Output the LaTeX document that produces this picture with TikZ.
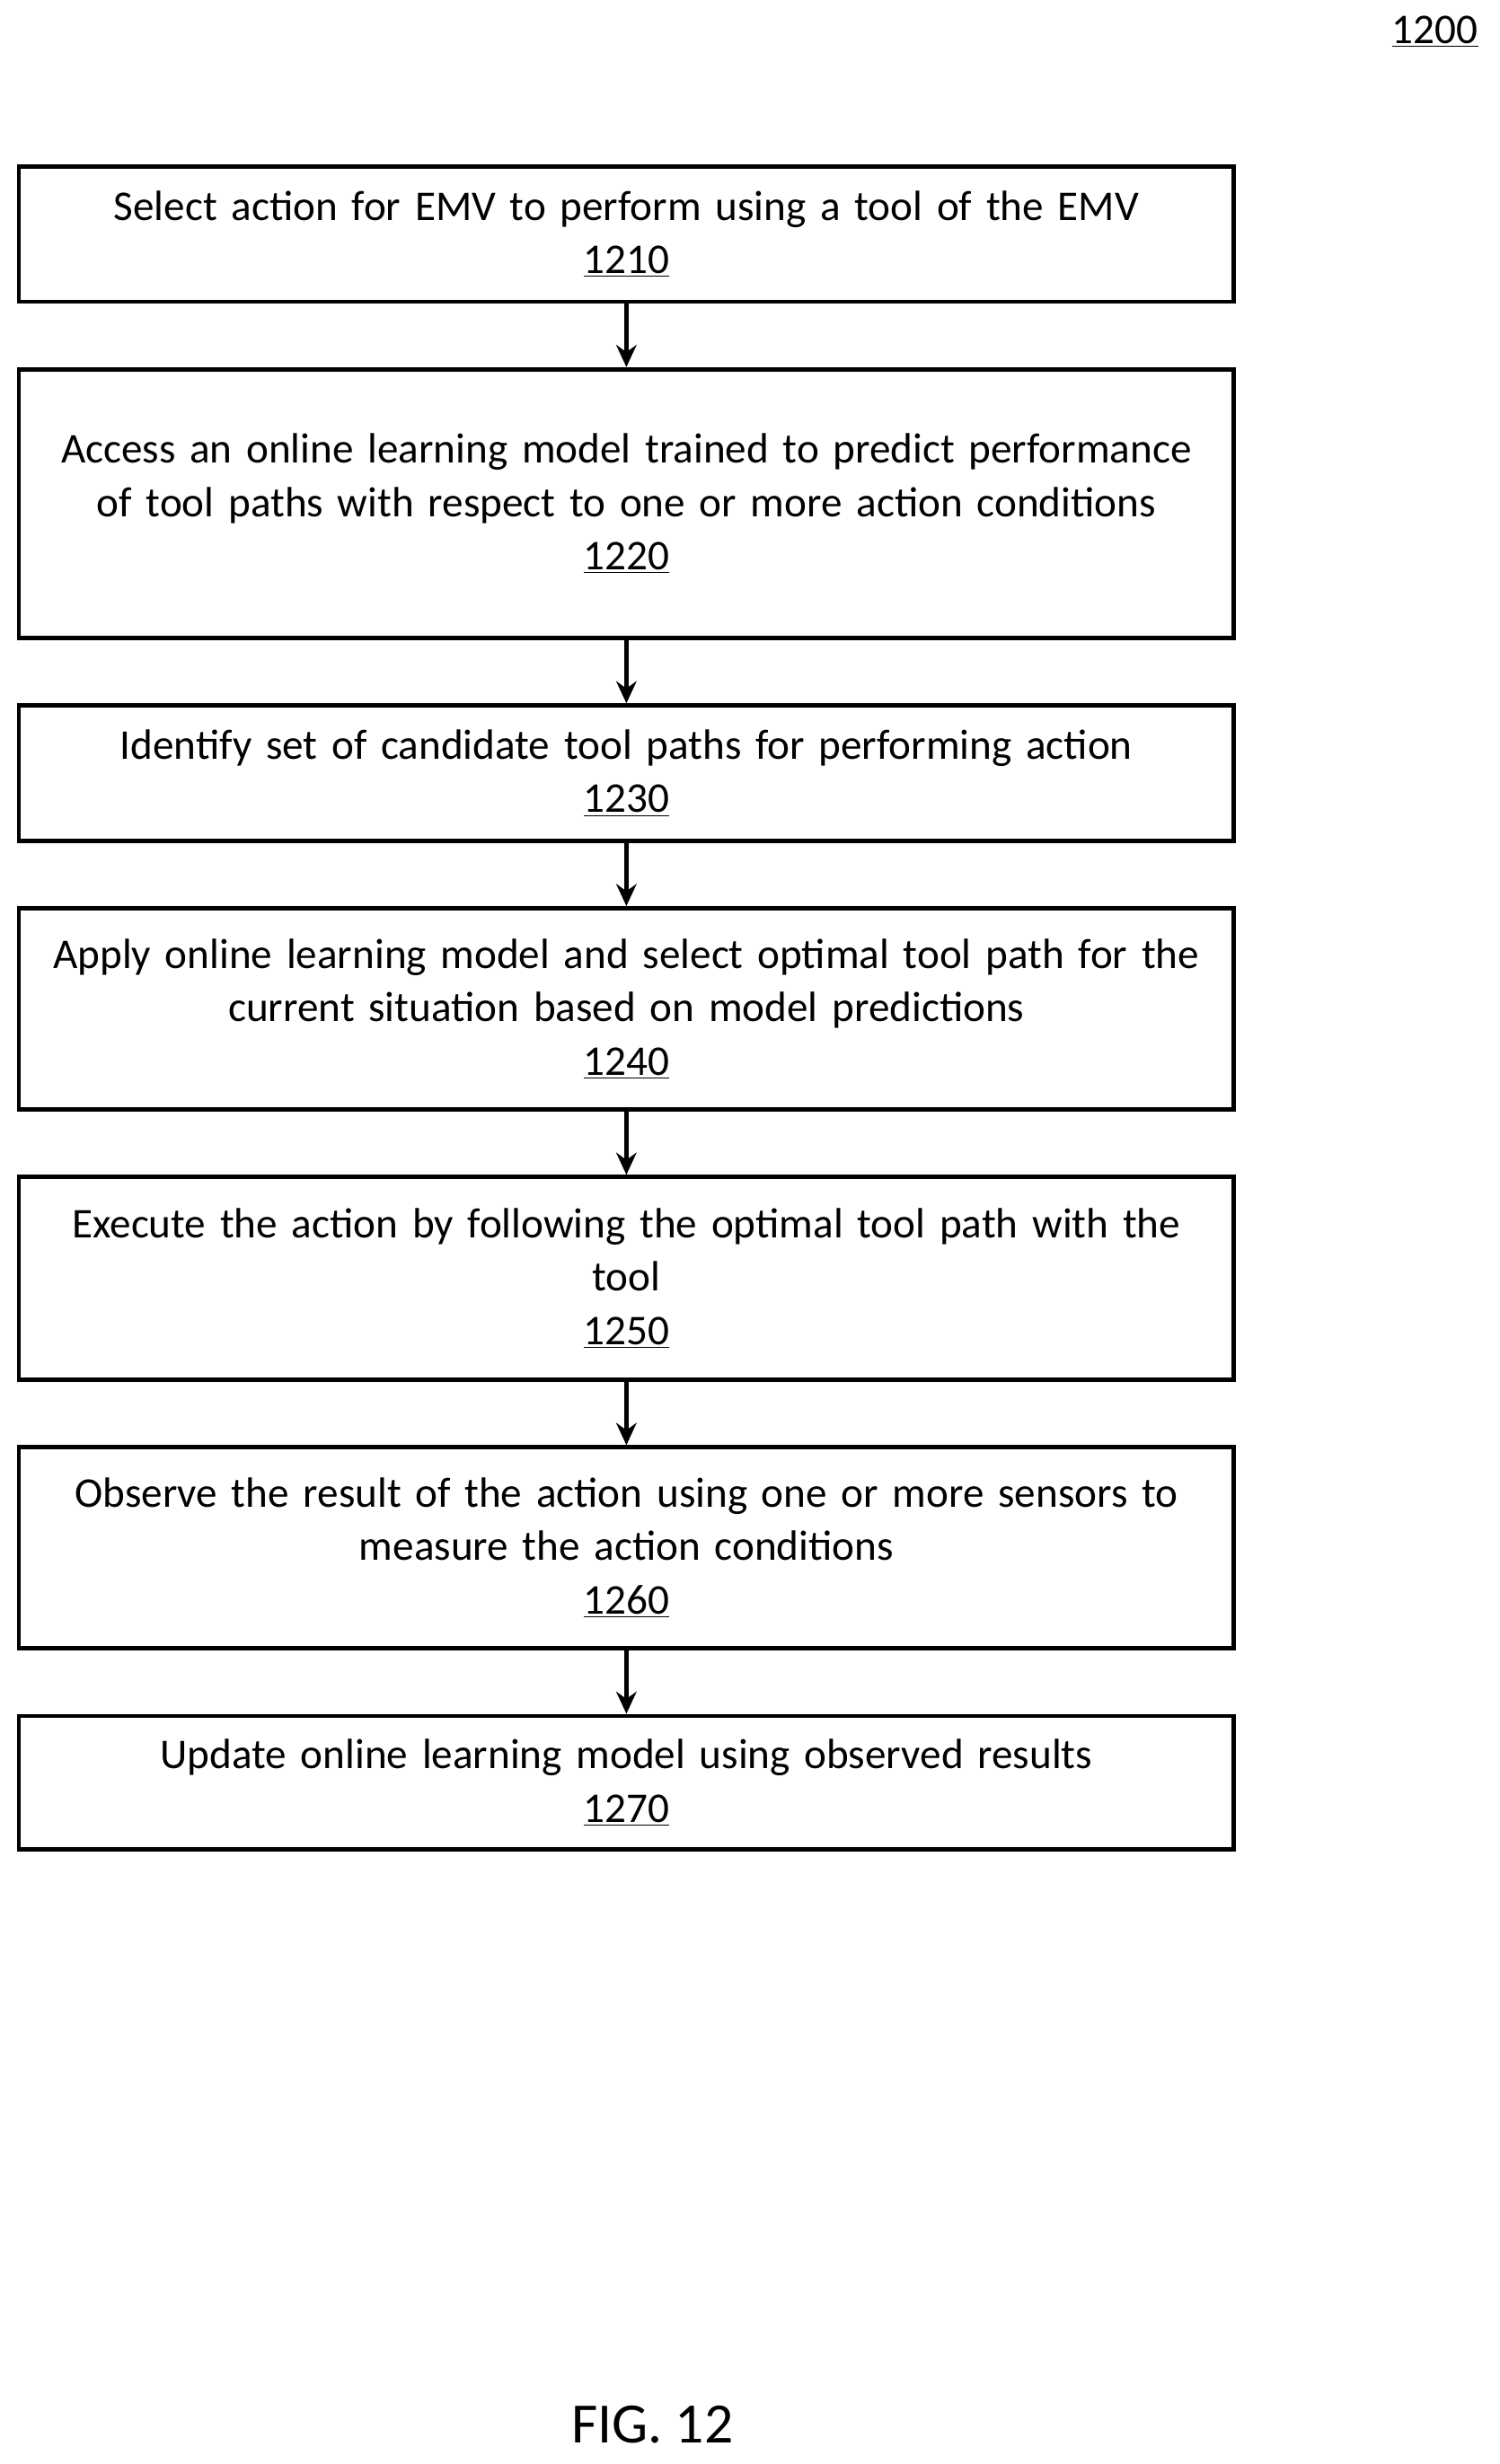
\documentclass[tikz,border=0pt]{standalone}
\usepackage{fontspec}
\setmainfont{Carlito}
\usetikzlibrary{positioning}
\usetikzlibrary{arrows.meta}

\tikzset{
    stepbox/.style={draw=black, line width=2.4pt, text width=23.19cm, align=center,
        font=\fontsize{23}{29}\selectfont, inner sep=0pt},
    flow/.style={line width=2.4pt, -{Stealth[length=12pt,width=11pt]}}
}

\begin{document}
\begin{tikzpicture}[x=0.03cm,y=-0.03cm]
    \useasboundingbox (0,0) rectangle (954,1568);

    \node[font=\fontsize{23}{26}\selectfont] (fig) at (913,20) {\underline{1200}};

    \node[stepbox, minimum height=86*0.03cm] (s1) at (398.5,149)
        {Select action for EMV to perform using a tool of the EMV\\\underline{1210}};
    \node[stepbox, minimum height=171*0.03cm] (s2) at (398.5,320.5)
        {Access an online learning model trained to predict performance\\of tool paths with respect to one or more action conditions\\\underline{1220}};
    \node[stepbox, minimum height=86*0.03cm] (s3) at (398.5,492)
        {Identify set of candidate tool paths for performing action\\\underline{1230}};
    \node[stepbox, minimum height=128*0.03cm] (s4) at (398.5,642)
        {Apply online learning model and select optimal tool path for the\\current situation based on model predictions\\\underline{1240}};
    \node[stepbox, minimum height=129*0.03cm] (s5) at (398.5,813.5)
        {Execute the action by following the optimal tool path with the\\tool\\\underline{1250}};
    \node[stepbox, minimum height=128*0.03cm] (s6) at (398.5,985)
        {Observe the result of the action using one or more sensors to\\measure the action conditions\\\underline{1260}};
    \node[stepbox, minimum height=85*0.03cm] (s7) at (398.5,1134.5)
        {Update online learning model using observed results\\\underline{1270}};

    % arrows between steps
    \foreach \a/\b in {s1/s2,s2/s3,s3/s4,s4/s5,s5/s6,s6/s7}
        \draw[flow] (\a) -- (\b);

    \node[font=\fontsize{31}{36}\selectfont] (cap) at (415,1543) {FIG. 12};
\end{tikzpicture}
\end{document}
